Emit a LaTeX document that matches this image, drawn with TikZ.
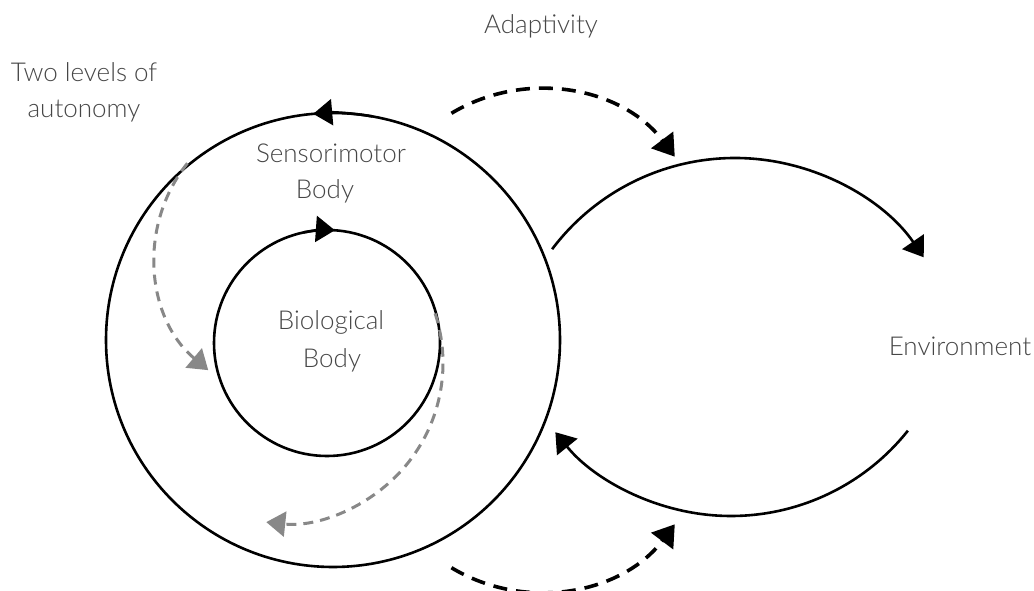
\documentclass[tikz,border=0pt]{standalone}
\usepackage{fontspec}
\setmainfont{Lato}[UprightFont=* Light]
\usetikzlibrary{arrows.meta}
\definecolor{txt}{HTML}{464646}
\definecolor{dgray}{HTML}{888888}
\tikzset{
  lbl/.style={text=txt, font=\fontsize{26}{30}\selectfont, inner sep=0pt, anchor=base},
  solidline/.style={line width=2.6pt, black},
  solidarrow/.style={solidline, -{Triangle[length=19pt,width=26pt]}},
  blackdash/.style={line width=3.6pt, black, dash pattern=on 14pt off 9pt, -{Triangle[length=21pt,width=27pt]}},
  graydash/.style={line width=3pt, dgray, dash pattern=on 10pt off 7pt, -{Triangle[length=19pt,width=25pt]}}
}
\begin{document}
\begin{tikzpicture}[x=1pt,y=1pt]
\useasboundingbox (0,0) rectangle (1034,590);
% centres
\coordinate (oc) at (333,250);
\coordinate (ic) at (327,247);
\coordinate (eu) at (735,203);
\coordinate (el) at (731,300);
\coordinate (dt) at (539,331);
\coordinate (db) at (539,168);
\coordinate (gl) at (304,334);
\coordinate (gr) at (283,227);
% outer and inner circles
\draw[solidline] (oc) circle (227);
\draw[solidarrow] ([shift={(oc)}]80:227) arc (80:95:227);
\draw[solidline] (ic) circle (113);
\draw[solidarrow] ([shift={(ic)}]102:113) arc (102:86:113);
% environment arcs
\draw[solidarrow] ([shift={(eu)}]143:229) arc (143:34.5:229);
\draw[solidarrow] ([shift={(el)}]-38.5:226) arc (-38.5:-141:226);
% adaptivity dashed arrows
\draw[blackdash] ([shift={(dt)}]121:170) arc (121:37:170);
\draw[blackdash] ([shift={(db)}]-121:170) arc (-121:-37:170);
% grey dashed arrows
\draw[graydash] ([shift={(gl)}]141.5:149) arc (141.5:230:149);
\draw[graydash] ([shift={(gr)}]18:160) arc (18:-96:160);
% labels
\node[lbl] (adapt) at (541,556) {Adaptivity};
\node[lbl] (two1) at (84,508) {Two levels of};
\node[lbl] (two2) at (84,472) {autonomy};
\node[lbl] (sens1) at (331,427) {Sensorimotor};
\node[lbl] (sens2) at (325,391) {Body};
\node[lbl] (bio1) at (331,260) {Biological};
\node[lbl] (bio2) at (332,223) {Body};
\node[lbl] (env) at (960,234) {Environment};
\end{tikzpicture}
\end{document}
